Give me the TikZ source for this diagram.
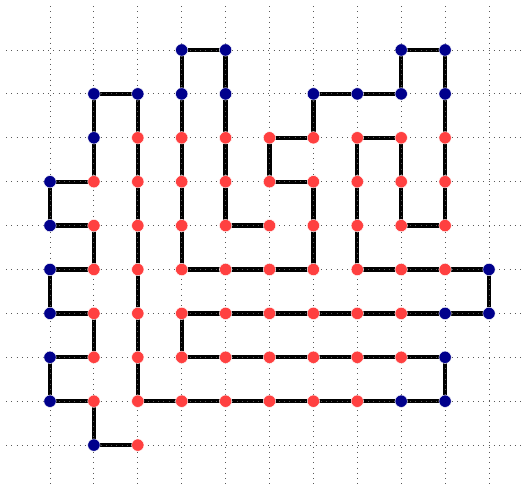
\documentclass[tikz,border=0pt]{standalone}
\usepackage{tikz}
\usetikzlibrary{backgrounds}
\definecolor{bnavy}{RGB}{0,0,140}
\definecolor{vred}{RGB}{255,64,64}

\begin{document}
\begin{tikzpicture}[gridline/.style={black!65, line width=0.6pt, dash pattern=on 0.6pt off 2.8pt},
  bnd/.style={circle, fill=bnavy, draw=white, line width=0.3pt, inner sep=0pt, minimum size=8pt},
  inr/.style={circle, fill=vred, draw=white, line width=0.3pt, inner sep=0pt, minimum size=8pt},
  edge/.style={black, line width=2.8pt}]
\useasboundingbox (-0.139,-10.98) rectangle (11.82,0.139);
% dotted grid
\foreach \r in {1,...,10} \draw[gridline] (0,-\r) -- (11.82,-\r);
\foreach \c in {1,...,11} \draw[gridline] (\c,0) -- (\c,-10.98);
% boundary vertices
\foreach \c/\r in {4/1,5/1,9/1,10/1,2/2,3/2,4/2,5/2,7/2,8/2,9/2,10/2,2/3,1/4,1/5,1/6,11/6,
    1/7,10/7,11/7,1/8,10/8,1/9,9/9,10/9,2/10}
  \node[bnd] (v\c-\r) at (\c,-\r) {};
% inner vertices
\foreach \r/\a/\b in {3/3/10,4/2/10,5/2/10,6/2/10,7/2/9,8/2/9,9/2/8,10/3/3}
  \foreach \c in {\a,...,\b}
    \node[inr] (v\c-\r) at (\c,-\r) {};
% the path
\begin{pgfonlayer}{background}
\foreach \p [remember=\p as \q (initially 3-10)] in {2-10,2-9,1-9,1-8,2-8,2-7,1-7,1-6,2-6,2-5,1-5,1-4,
    2-4,2-3,2-2,3-2,3-3,3-4,3-5,3-6,3-7,3-8,3-9,4-9,5-9,6-9,7-9,8-9,9-9,10-9,10-8,9-8,8-8,7-8,6-8,
    5-8,4-8,4-7,5-7,6-7,7-7,8-7,9-7,10-7,11-7,11-6,10-6,9-6,8-6,8-5,8-4,8-3,9-3,9-4,9-5,10-5,10-4,
    10-3,10-2,10-1,9-1,9-2,8-2,7-2,7-3,6-3,6-4,7-4,7-5,7-6,6-6,5-6,4-6,4-5,4-4,4-3,4-2,4-1,5-1,5-2,
    5-3,5-4,5-5,6-5}
  \draw[edge] (v\q.center) -- (v\p.center);
\end{pgfonlayer}
\end{tikzpicture}
\end{document}
